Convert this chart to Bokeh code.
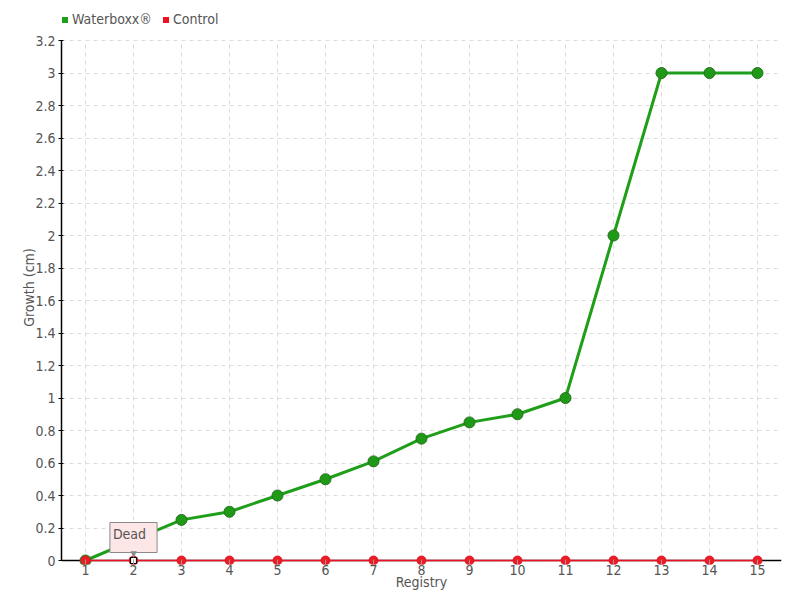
from bokeh.plotting import figure
from bokeh.models import (ColumnDataSource, Range1d, SingleIntervalTicker, CustomJSTickFormatter,
                          Legend, LegendItem, Label, Span)
from bokeh.embed import file_html
from bokeh.resources import INLINE

registry = list(range(1, 16))
waterboxx = [0, 0.125, 0.25, 0.3, 0.4, 0.5, 0.61, 0.75, 0.85, 0.9, 1.0, 2.0, 3.0, 3.0, 3.0]
control = [0] * 15
dead_registry = [2]
dead_value = [0]
dead_label = "Dead"

Y_MAX = 3.2
FONT = "DejaVu Sans Condensed, Roboto"
GRAY = "#555555"
GREEN = "#1f9e1a"
RED = "#ee1122"
PX_PER_UNIT = 520 / Y_MAX   # frame pixels per data unit on the y axis

p = figure(width=800, height=600, output_backend="svg", toolbar_location=None,
           x_range=Range1d(0.5, 15.5),
           y_range=Range1d(-4 / PX_PER_UNIT, Y_MAX + 30 / PX_PER_UNIT),
           min_border_left=61, min_border_right=19, min_border_top=10, min_border_bottom=36)
p.outline_line_color = None

# grids: horizontal via axis bounds, vertical drawn only within the value range
p.xgrid.visible = False
p.ygrid.grid_line_color = "#dddddd"
p.ygrid.grid_line_dash = "4 4"
p.segment(x0=registry, y0=[0] * len(registry), x1=registry, y1=[Y_MAX] * len(registry),
          line_color="#dddddd", line_dash="4 4", line_width=1, level="underlay")
p.add_layout(Span(location=0, dimension="width", line_color="black", line_width=1.5, level="underlay"))

src_w = ColumnDataSource(dict(x=registry, y=waterboxx))
src_c = ColumnDataSource(dict(x=registry, y=control))

lw = p.line("x", "y", source=src_w, line_color=GREEN, line_width=3)
sw = p.scatter("x", "y", source=src_w, size=11, fill_color="#1f9a16", line_color="#2a6e22", line_width=1)
lc = p.line("x", "y", source=src_c, line_color=RED, line_width=1.5)
sc = p.scatter("x", "y", source=src_c, size=9, fill_color="#ee1a26", line_color="#dd1a26")
p.scatter(dead_registry, dead_value, marker="square", size=6, fill_color="white",
          line_color="black", line_width=1.2)

# zero-size square markers: invisible in the plot, give square legend swatches
leg_w = p.scatter("x", "y", source=src_w, marker="square", size=0, fill_color=GREEN, line_color=None)
leg_c = p.scatter("x", "y", source=src_c, marker="square", size=0, fill_color=RED, line_color=None)

p.xaxis.ticker = SingleIntervalTicker(interval=1)
p.yaxis.ticker = SingleIntervalTicker(interval=0.2)
p.yaxis.formatter = CustomJSTickFormatter(code="return String(Number(tick.toFixed(1)));")
p.yaxis.bounds = (0, Y_MAX)
for ax in (p.xaxis[0], p.yaxis[0]):
    ax.minor_tick_line_color = None
    ax.major_label_text_font = FONT
    ax.major_label_text_color = GRAY
    ax.major_label_text_font_size = "14px"
    ax.axis_label_text_font = FONT
    ax.axis_label_text_color = GRAY
    ax.axis_label_text_font_size = "14px"
    ax.axis_label_text_font_style = "normal"

p.yaxis.axis_line_color = "black"
p.yaxis.axis_line_width = 1.5
p.yaxis.major_tick_line_color = "black"
p.yaxis.major_tick_out = 3
p.yaxis.major_tick_in = 2
p.yaxis.major_label_standoff = 2
p.yaxis.axis_label = "Growth (cm)"
p.yaxis.axis_label_standoff = -5

p.xaxis.axis_line_color = None
p.xaxis.major_tick_line_color = "#999999"
p.xaxis.major_tick_in = 5
p.xaxis.major_tick_out = 0
p.xaxis.major_label_standoff = -4
p.xaxis.axis_label = "Registry"
p.xaxis.axis_label_standoff = -4

lbl = Label(x=dead_registry[0], y=dead_value[0], y_offset=8, text=dead_label,
            text_align="center", text_baseline="bottom",
            text_font=FONT, text_font_size="14px", text_color=GRAY,
            background_fill_color="#fde6e6", border_line_color="#8a8a8a",
            padding=(3, 11, 3, 11))
p.add_layout(lbl)
ptr = Label(x=dead_registry[0], y=dead_value[0], y_offset=2, text="▼",
            text_align="center", text_baseline="bottom",
            text_font=FONT, text_font_size="9px", text_color="#8a8a8a")
p.add_layout(ptr)

legend = Legend(items=[LegendItem(label="Waterboxx®", renderers=[leg_w]),
                       LegendItem(label="Control", renderers=[leg_c])],
                orientation="horizontal", location=(-4, 537),
                label_text_font=FONT, label_text_font_size="14px", label_text_color=GRAY,
                glyph_width=15, glyph_height=15, label_standoff=0, spacing=6,
                label_height=14, border_line_color=None, background_fill_alpha=0,
                padding=0, margin=0)
p.add_layout(legend, "center")

open("out.html", "w").write(file_html(p, INLINE))
